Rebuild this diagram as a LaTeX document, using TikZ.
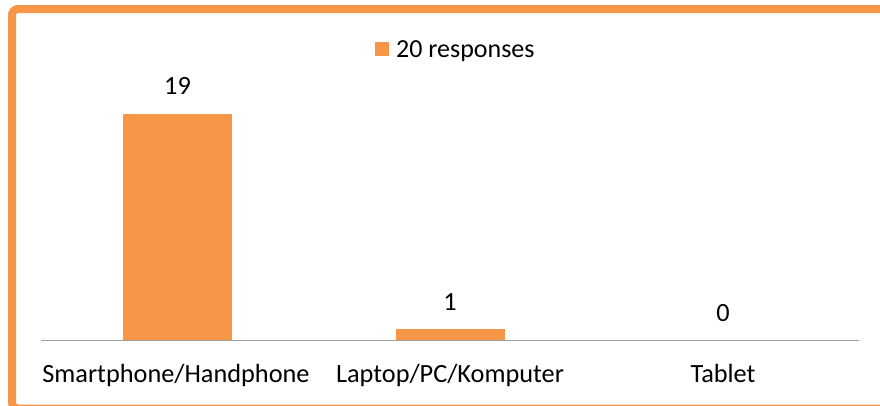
\documentclass[tikz,border=0pt]{standalone}
\usepackage{fontspec}
\setmainfont{Carlito}
\usetikzlibrary{positioning}
\definecolor{barorange}{HTML}{F79646}
\definecolor{axisgray}{HTML}{A0A0A0}

\begin{document}
\begin{tikzpicture}[x=1pt,y=-1pt,
						bar/.style={fill=barorange,draw=none,inner sep=0pt,
						minimum width=109pt,anchor=south},
						value/.style={font=\fontsize{26.3}{30}\selectfont,
						anchor=base,inner sep=0pt},
						category/.style={font=\fontsize{26.3}{30}\selectfont,
						anchor=base,inner sep=0pt}]

		\useasboundingbox (0,0) rectangle (880,405);
		\clip (0,0) rectangle (880,405);

		% frame
		\draw[barorange,line width=8pt,rounded corners=6pt]
			(12,9) rectangle (892,408.5);

		% axis
		\coordinate (ax0) at (41,340.5);
		\coordinate (ax1) at (859,340.5);
		\draw[axisgray,line width=1.5pt] (ax0) -- (ax1);

		% bars
		\node[bar,minimum height=226.5pt] (b1) at (177.5,340.5) {};
		\node[bar,minimum height=11.5pt] (b2) at (450,340.5) {};
		\coordinate (b3) at (723,340.5);

		% values
		\node[value] (v1) at ([yshift=19pt]b1.north) {19};
		\node[value] (v2) at ([yshift=18pt]b2.north) {1};
		\node[value] (v3) at ([yshift=19.5pt]b3) {0};

		% categories
		\node[category] (c1) at (176,382) {Smartphone/Handphone};
		\node[category] (c2) at (450,382) {Laptop/PC/Komputer};
		\node[category] (c3) at (723,382) {Tablet};

		% legend
		\node[fill=barorange,minimum size=14pt,inner sep=0pt] (key) at (381.5,48.5) {};
		\node[font=\fontsize{26}{30}\selectfont,anchor=base west,inner sep=0pt]
			(keytext) at (396,57) {20 responses};

	\end{tikzpicture}
\end{document}
